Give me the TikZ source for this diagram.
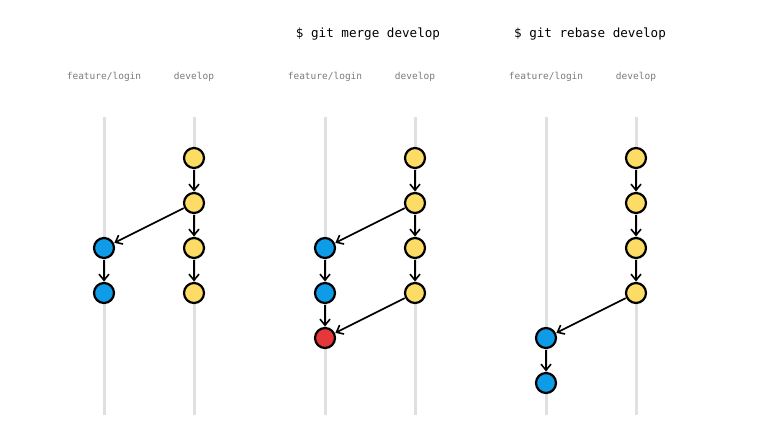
\documentclass[tikz,border=0pt]{standalone}
\usepackage{fontspec}
\setmonofont{DejaVu Sans Mono}
\usetikzlibrary{arrows.meta}
\definecolor{devyellow}{HTML}{FDDC66}
\definecolor{featblue}{HTML}{0E9BE8}
\definecolor{mergered}{HTML}{E6373A}
\definecolor{lanegray}{HTML}{E0E0E0}
\definecolor{labelgray}{HTML}{7A7A7A}
\tikzset{
  commit/.style={circle,draw=black,line width=2.2pt,minimum size=20pt,inner sep=0pt},
  dev/.style={commit,fill=devyellow},
  feat/.style={commit,fill=featblue},
  merged/.style={commit,fill=mergered},
  lane/.style={draw=lanegray,line width=3pt},
  link/.style={-{Straight Barb[length=6pt,width=10pt,line width=1.6pt]},line width=1.6pt,shorten <=0.5pt,shorten >=0.5pt},
  branchname/.style={font=\ttfamily\fontsize{9.5}{11}\selectfont,text=labelgray},
  command/.style={font=\ttfamily\fontsize{12.6}{14}\selectfont}
}
\begin{document}
\begin{tikzpicture}[x=1pt,y=-1pt]
  \useasboundingbox (0,0) rectangle (764,439);
  % lanes and branch names
  \foreach \p/\xf/\xd in {a/104/194,b/325/415,c/546/636} {
    \draw[lane] (\xf,117) -- (\xf,415);
    \draw[lane] (\xd,117) -- (\xd,415);
    \node[branchname] (name-\p-f) at (\xf,77) {feature/login};
    \node[branchname] (name-\p-d) at (\xd,77) {develop};
  }
  \node[command] (cmd-merge) at (368,34) {\$ git merge develop};
  \node[command] (cmd-rebase) at (590,34) {\$ git rebase develop};
  % develop commits
  \foreach \p/\xd in {a/194,b/415,c/636} {
    \node[dev] (\p-d1) at (\xd,158) {};
    \node[dev] (\p-d2) at (\xd,203) {};
    \node[dev] (\p-d3) at (\xd,248) {};
    \node[dev] (\p-d4) at (\xd,293) {};
    \draw[link] (\p-d1) -- (\p-d2);
    \draw[link] (\p-d2) -- (\p-d3);
    \draw[link] (\p-d3) -- (\p-d4);
  }
  % before
  \node[feat] (a-f1) at (104,248) {};
  \node[feat] (a-f2) at (104,293) {};
  \draw[link] (a-d2) -- (a-f1);
  \draw[link] (a-f1) -- (a-f2);
  % merge
  \node[feat] (b-f1) at (325,248) {};
  \node[feat] (b-f2) at (325,293) {};
  \node[merged] (b-m) at (325,338) {};
  \draw[link] (b-d2) -- (b-f1);
  \draw[link] (b-f1) -- (b-f2);
  \draw[link] (b-f2) -- (b-m);
  \draw[link] (b-d4) -- (b-m);
  % rebase
  \node[feat] (c-f1) at (546,338) {};
  \node[feat] (c-f2) at (546,383) {};
  \draw[link] (c-d4) -- (c-f1);
  \draw[link] (c-f1) -- (c-f2);
\end{tikzpicture}
\end{document}
